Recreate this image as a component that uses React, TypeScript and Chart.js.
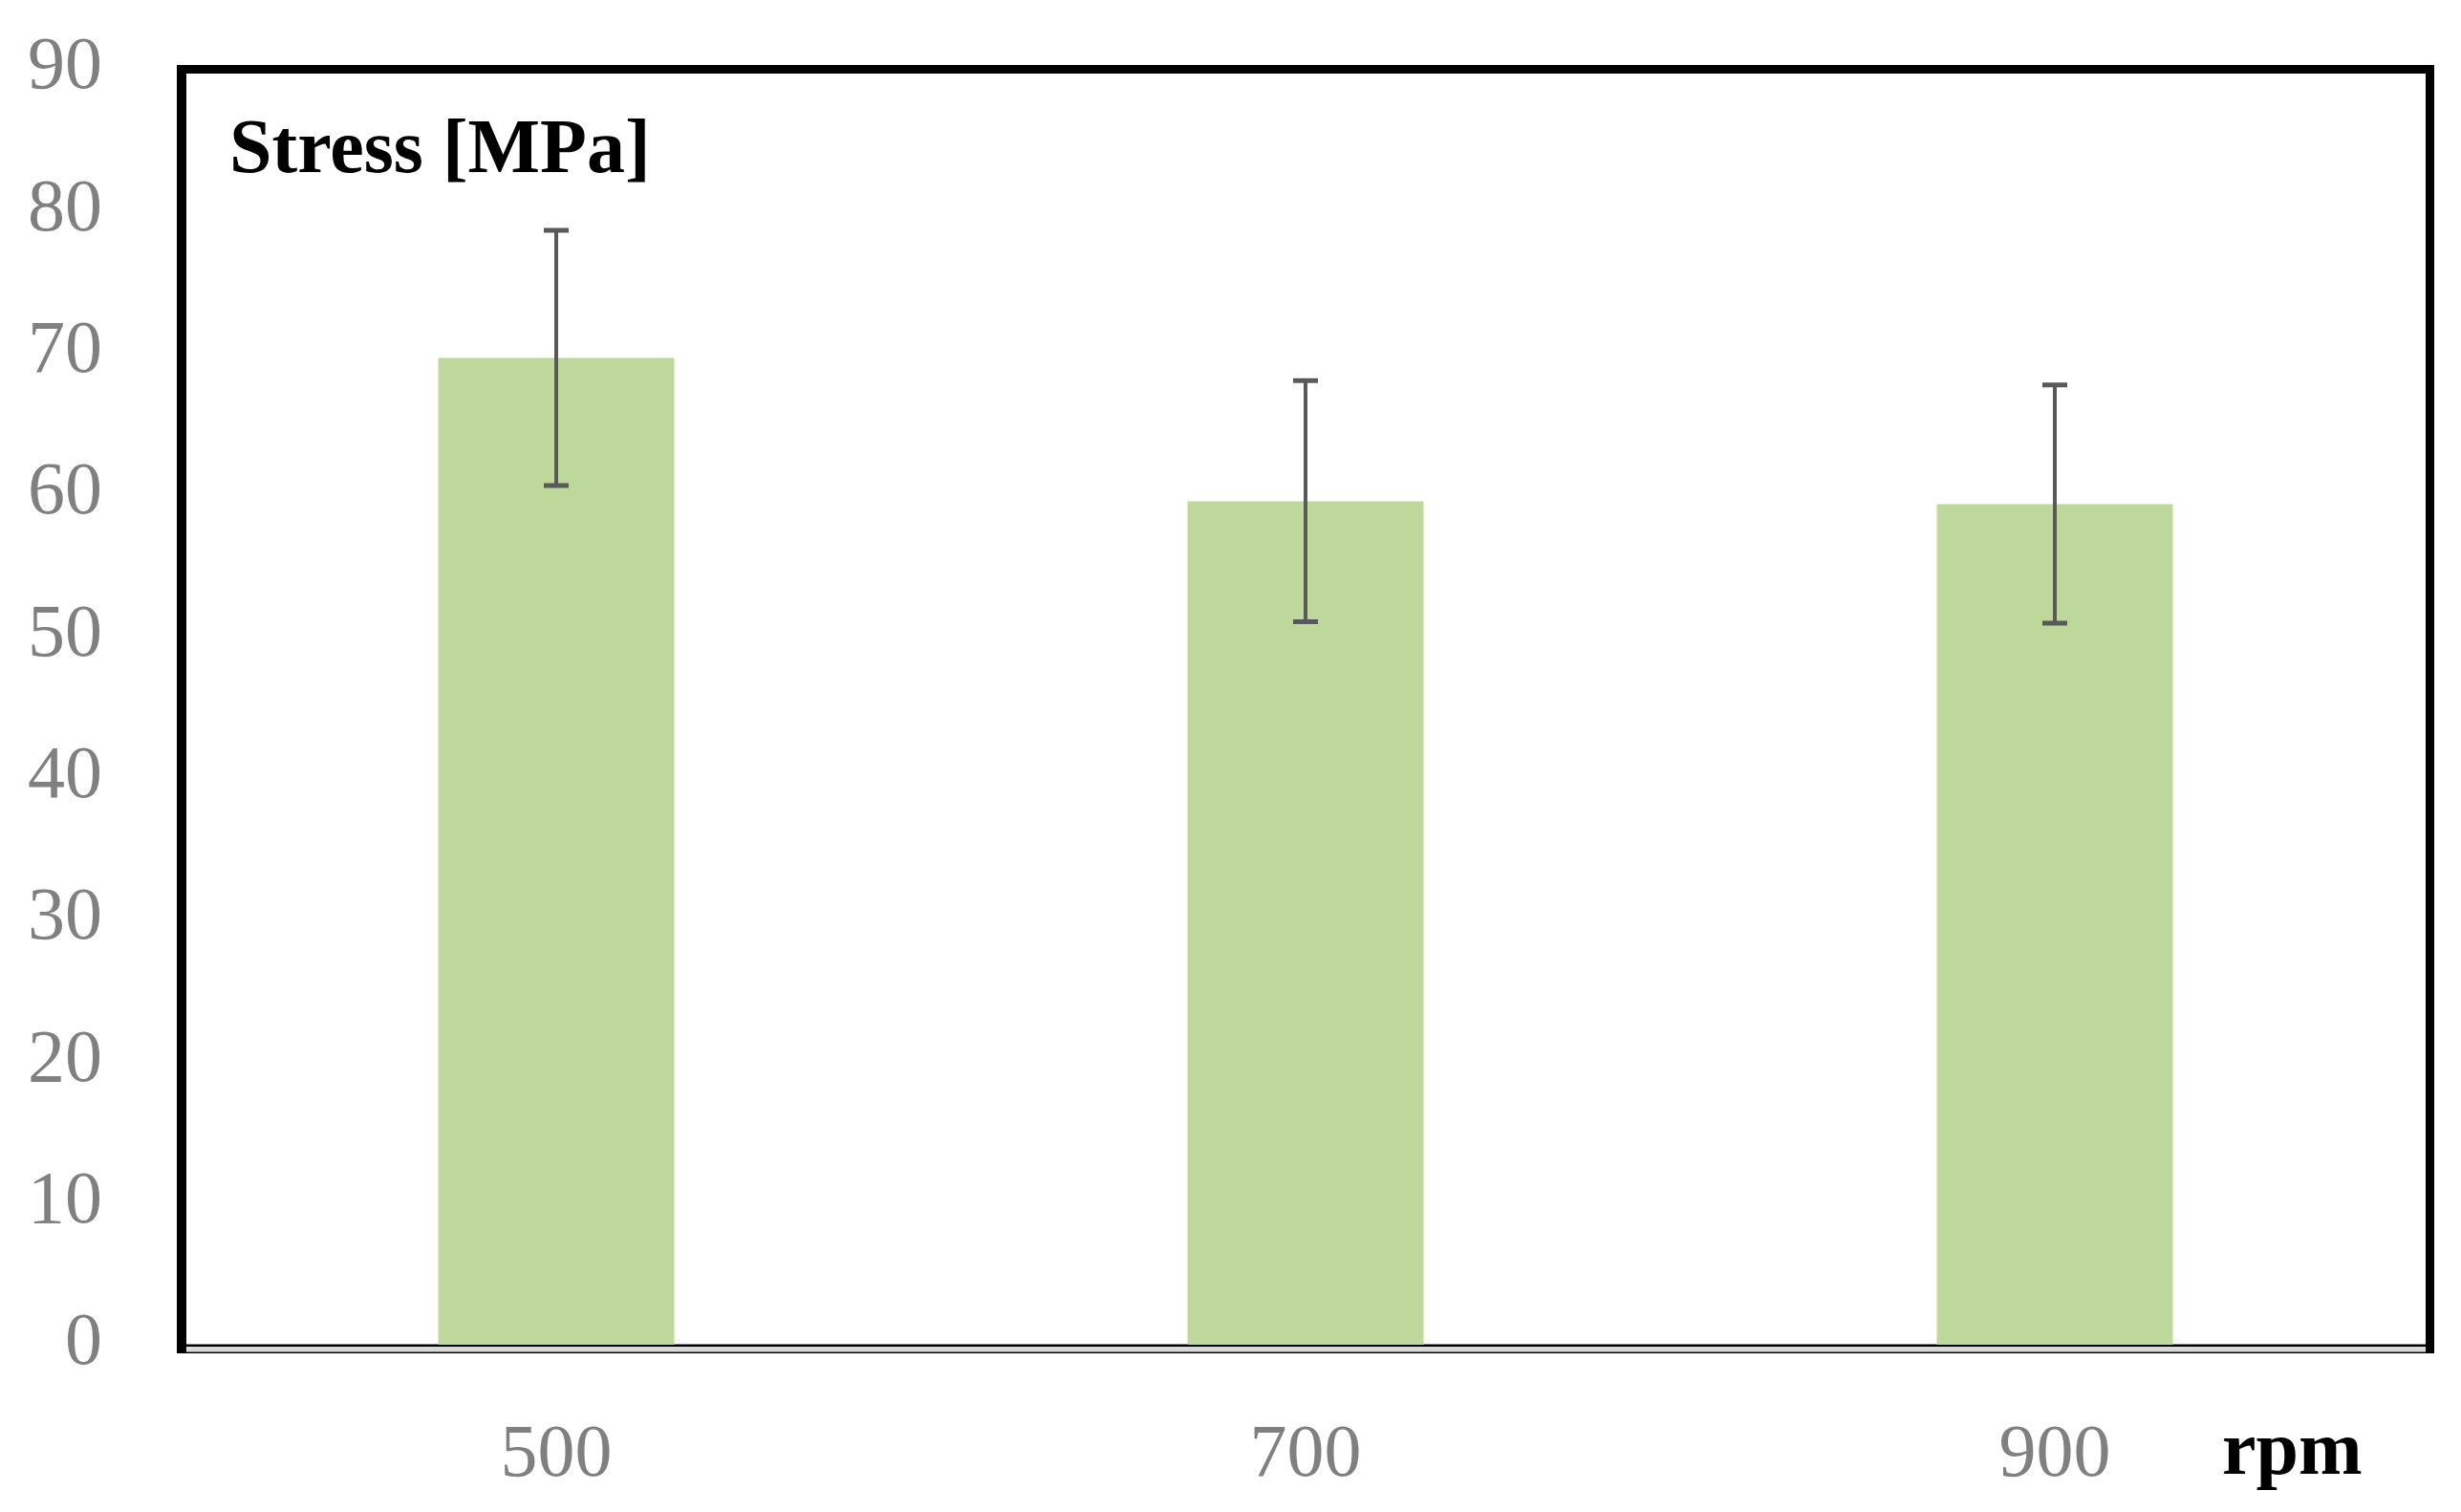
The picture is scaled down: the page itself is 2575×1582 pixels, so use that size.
import React, { useEffect, useRef } from "react";
import { Chart, registerables } from "chart.js";

Chart.register(...registerables);

const categories = ["500", "700", "900"];
const stressValues = [69.6, 59.5, 59.3];
const stressErrors = [9.0, 8.5, 8.4];
const yTicks = [0, 10, 20, 30, 40, 50, 60, 70, 80, 90];
const chartTitle = "Stress [MPa]";
const xUnit = "rpm";

const W = 2575;
const H = 1582;

const errorBarPlugin = {
  id: "errorBars",
  afterDatasetsDraw(chart: any) {
    const ctx = chart.ctx;
    const meta = chart.getDatasetMeta(0);
    const y = chart.scales.y;
    ctx.save();
    ctx.strokeStyle = "#595959";
    meta.data.forEach((bar: any, i: number) => {
      const v = stressValues[i];
      const e = stressErrors[i];
      const yTop = y.getPixelForValue(v + e);
      const yBot = y.getPixelForValue(v - e);
      const x = bar.x;
      ctx.lineWidth = 4;
      ctx.beginPath();
      ctx.moveTo(x, yTop);
      ctx.lineTo(x, yBot);
      ctx.stroke();
      ctx.lineWidth = 5;
      ctx.beginPath();
      ctx.moveTo(x - 13, yTop);
      ctx.lineTo(x + 13, yTop);
      ctx.moveTo(x - 13, yBot);
      ctx.lineTo(x + 13, yBot);
      ctx.stroke();
    });
    ctx.restore();
  },
};

const framePlugin = {
  id: "frame",
  beforeDatasetsDraw(chart: any) {
    const { ctx, chartArea } = chart;
    const { left, right, bottom } = chartArea;
    ctx.save();
    ctx.fillStyle = "#000000";
    ctx.fillRect(left, bottom - 0.5, right - left, 2.5);
    ctx.restore();
  },
  afterDatasetsDraw(chart: any) {
    const { ctx, chartArea } = chart;
    const { left, right, top, bottom } = chartArea;
    ctx.save();
    ctx.fillStyle = "#d9d9d9";
    ctx.fillRect(left, bottom + 2, right - left, 5.5);
    ctx.fillStyle = "#000000";
    ctx.fillRect(left, bottom + 7.5, right - left, 1.5);
    ctx.fillRect(left - 5, top - 4, 10, bottom + 9 - (top - 4));
    ctx.fillRect(left - 5, top - 4, right + 5 - (left - 5), 9);
    ctx.fillRect(right - 4, top - 4, 9, bottom + 9 - (top - 4));
    ctx.fillStyle = "#000000";
    ctx.font = "bold 80px 'Liberation Serif', serif";
    ctx.textAlign = "left";
    ctx.textBaseline = "alphabetic";
    ctx.fillText(chartTitle, left + 50, top + 108);
    ctx.fillText(xUnit, 2325, 1542);
    ctx.restore();
  },
};

export default function App() {
  const canvasRef = useRef<HTMLCanvasElement | null>(null);

  useEffect(() => {
    const canvas = canvasRef.current;
    if (!canvas) return;
    const chart = new Chart(canvas, {
      type: "bar",
      data: {
        labels: categories,
        datasets: [
          {
            label: chartTitle,
            data: stressValues,
            backgroundColor: "#bed79a",
            borderWidth: 0,
            barPercentage: 0.315,
            categoryPercentage: 1,
          },
        ],
      },
      options: {
        responsive: false,
        animation: false,
        events: [],
        layout: { padding: { left: 0, top: 72, right: 33, bottom: 0 } },
        plugins: {
          legend: { display: false },
          tooltip: { enabled: false },
          title: { display: false },
        },
        scales: {
          x: {
            type: "category",
            offset: true,
            grid: { display: false, drawTicks: false },
            border: { display: false },
            ticks: {
              color: "#808080",
              font: { family: "'Liberation Serif', serif", size: 78 },
              padding: 70,
              maxRotation: 0,
            },
            afterFit(axis: any) {
              axis.height = 175;
              axis.paddingLeft = 0;
              axis.paddingRight = 0;
            },
          },
          y: {
            min: 0,
            max: 90,
            grid: { display: false, drawTicks: false },
            border: { display: false },
            afterBuildTicks(axis: any) {
              axis.ticks = yTicks.map((v) => ({ value: v }));
            },
            ticks: {
              color: "#808080",
              font: { family: "'Liberation Serif', serif", size: 78 },
              padding: 83,
            },
            afterFit(axis: any) {
              axis.width = 190;
              axis.paddingTop = 0;
              axis.paddingBottom = 0;
            },
          },
        },
      },
      plugins: [framePlugin, errorBarPlugin],
    });
    return () => chart.destroy();
  }, []);

  return (
    <div style={{ position: "fixed", left: 0, top: 0, width: W, height: H, background: "#ffffff" }}>
      <canvas ref={canvasRef} width={W} height={H} style={{ display: "block" }} />
    </div>
  );
}
